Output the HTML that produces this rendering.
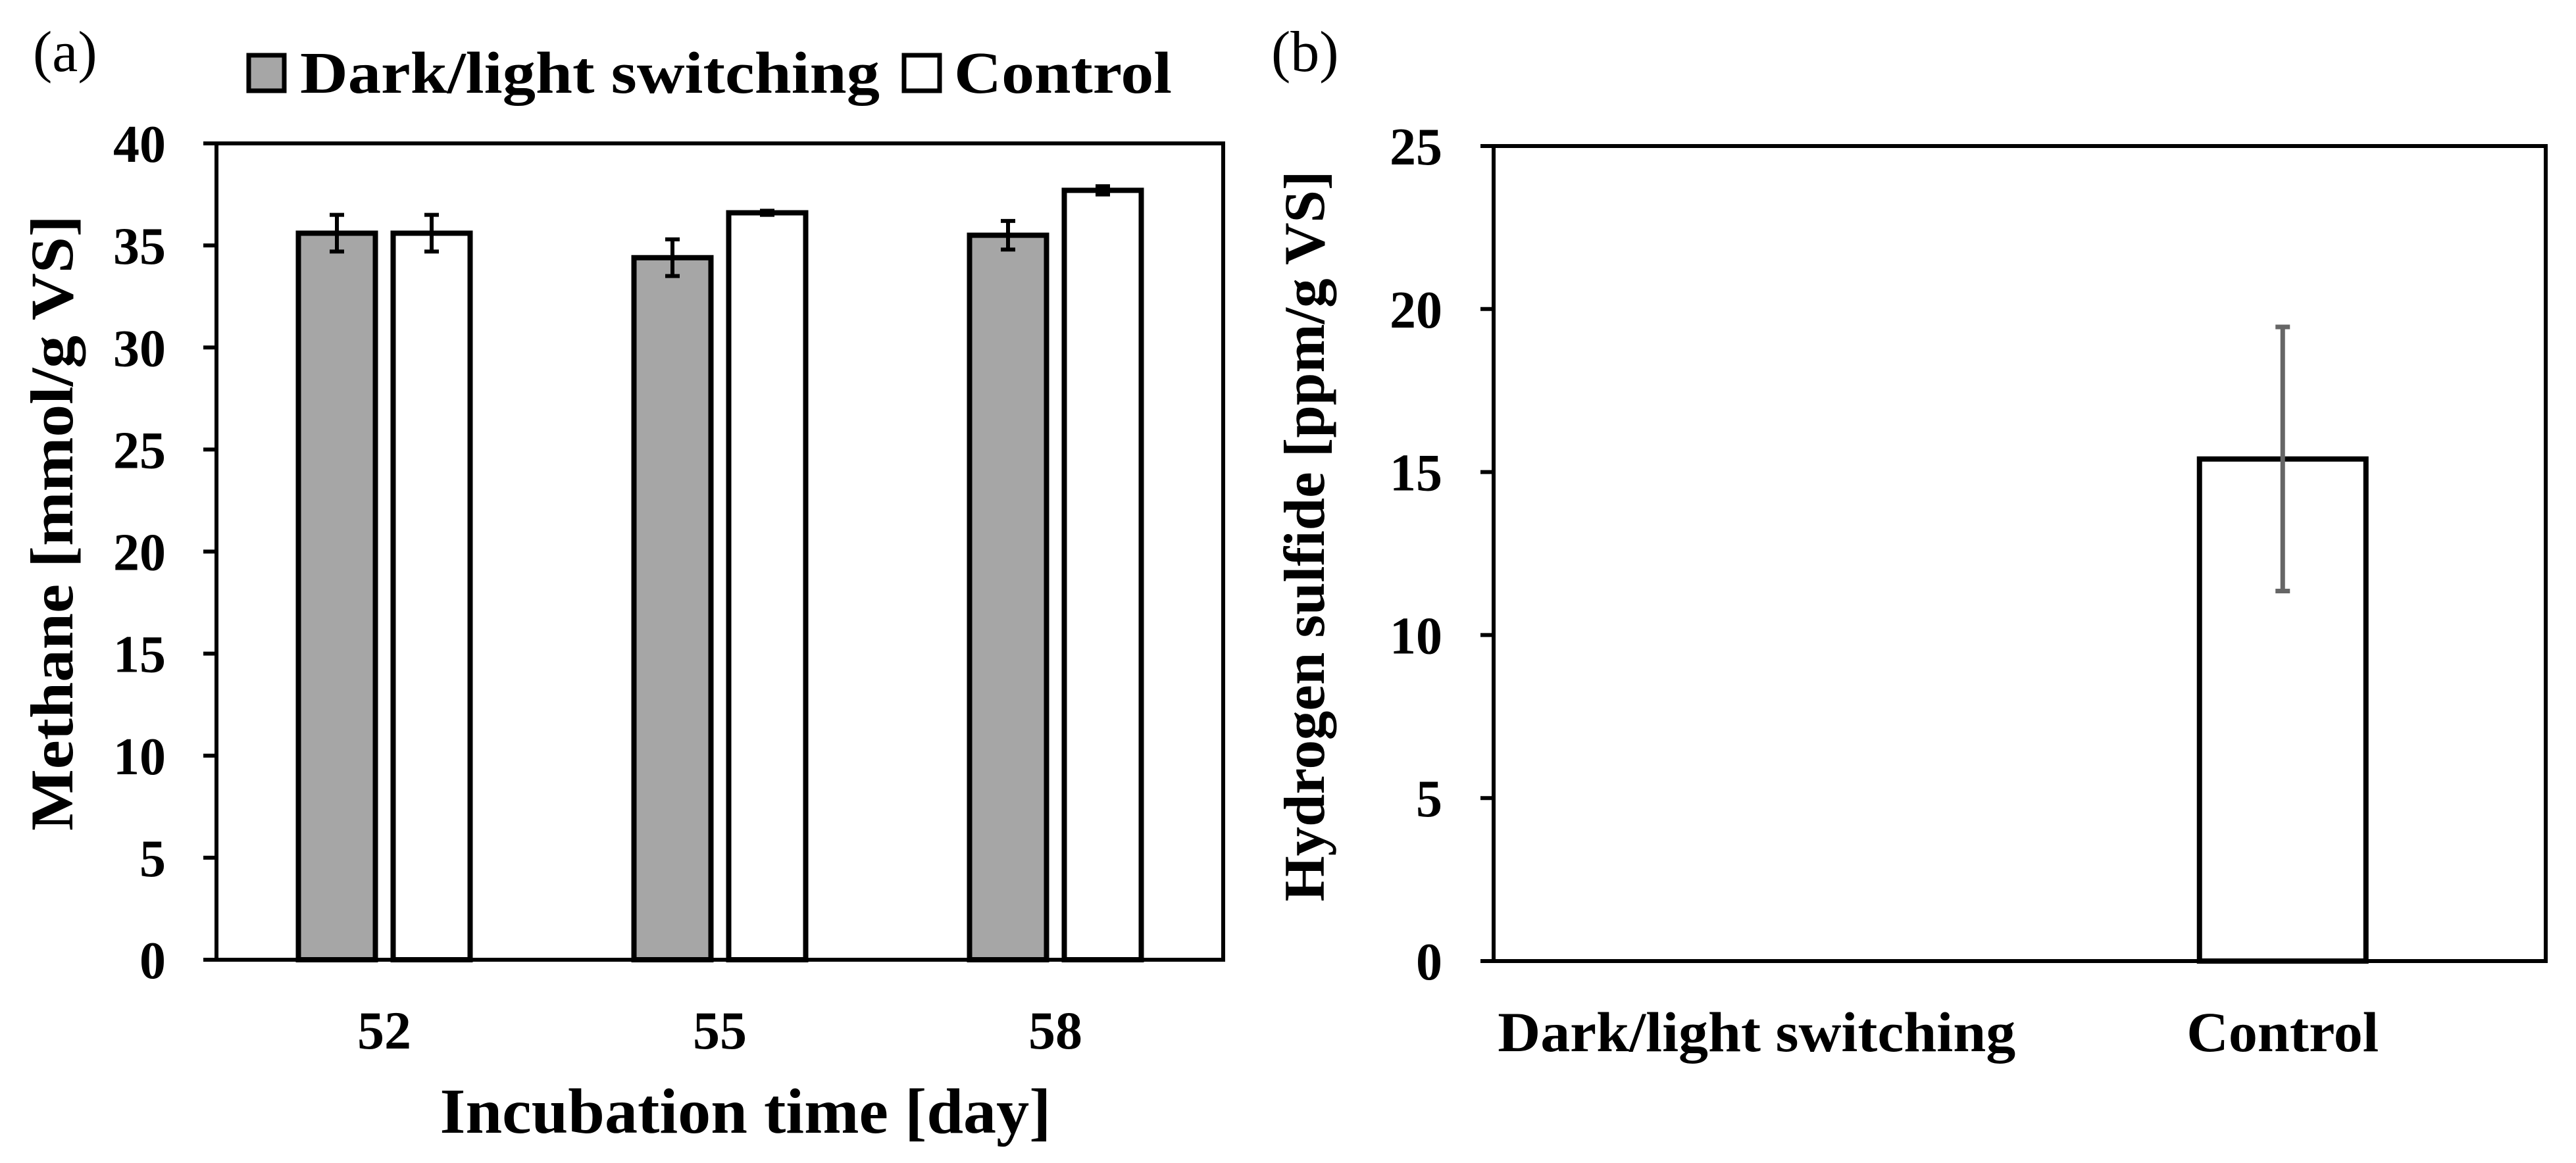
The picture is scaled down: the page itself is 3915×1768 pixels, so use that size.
<!DOCTYPE html>
<html><head><meta charset="utf-8"><style>
html,body{margin:0;padding:0;background:#fff;}
svg{display:block;font-family:"Liberation Serif",serif;}
</style></head><body>
<svg id="s" width="3915" height="1768" viewBox="0 0 3915 1768">
<text x="50" y="108" font-size="88">(a)</text>
<text x="1932" y="108" font-size="88">(b)</text>
<g>
<rect x="378" y="84" width="54" height="54" fill="#a6a6a6" stroke="#000" stroke-width="7"/>
<text x="456" y="141" font-size="90" font-weight="bold" textLength="881" lengthAdjust="spacingAndGlyphs">Dark/light switching</text>
<rect x="1374" y="84" width="54" height="54" fill="#fff" stroke="#000" stroke-width="7"/>
<text x="1450" y="141" font-size="90" font-weight="bold" textLength="331" lengthAdjust="spacingAndGlyphs">Control</text>
</g>
<text transform="translate(110,795) rotate(-90)" text-anchor="middle" font-size="92" font-weight="bold" textLength="936" lengthAdjust="spacingAndGlyphs">Methane [mmol/g VS]</text>
<text x="1133" y="1722" text-anchor="middle" font-size="98" font-weight="bold" textLength="929" lengthAdjust="spacingAndGlyphs">Incubation time [day]</text>
<text transform="translate(2012,815) rotate(-90)" text-anchor="middle" font-size="88" font-weight="bold" textLength="1111" lengthAdjust="spacingAndGlyphs">Hydrogen sulfide [ppm/g VS]</text>
<g id="ga"></g>
<g id="gb"></g>
</svg>
<script>
const daysA = ["52","55","58"];
const darkA = [35.6, 34.4, 35.5];
const darkErrA = [0.9, 0.9, 0.7];
const ctrlA = [35.6, 36.6, 37.7];
const ctrlErrA = [0.9, 0.1, 0.2];
const ticksA = [0,5,10,15,20,25,30,35,40];
const catsB = ["Dark/light switching","Control"];
const valsB = [0, 15.4];
const errB = [0, 4.05];
const ticksB = [0,5,10,15,20,25];

const NS="http://www.w3.org/2000/svg";
function mk(parent,tag,attrs){const e=document.createElementNS(NS,tag);for(const k in attrs)e.setAttribute(k,attrs[k]);parent.appendChild(e);return e;}

// Panel A
const ga=document.getElementById('ga');
const A={l:329,r:1859,t:218,b:1459,max:40};
const ya=v=>A.b-(v/A.max)*(A.b-A.t);
const bandA=(A.r-A.l)/daysA.length;
const bw=117, gap=27;
ticksA.forEach(t=>{
  const y=ya(t);
  const tk=mk(ga,'line',{x1:A.l-20,x2:A.l,y1:y,y2:y,stroke:'#000','stroke-width':6});
  
  
  const tx=mk(ga,'text',{x:252,y:y+28,'text-anchor':'end','font-size':80,'font-weight':'bold'});
  tx.textContent=t;
  
  
});
daysA.forEach((d,i)=>{
  const c=A.l+bandA*(i+0.5);
  [[darkA,darkErrA,'#a6a6a6',c-gap/2-bw,'bar-dark-'+d],[ctrlA,ctrlErrA,'#fff',c+gap/2,'bar-control-'+d]].forEach(([vals,errs,fill,x,name])=>{
    const v=vals[i], y=ya(v);
    const r=mk(ga,'rect',{x:x,y:y,width:bw,height:A.b-y,fill:fill,stroke:'#000','stroke-width':8});
    
    
    const cx=x+bw/2, y1=ya(v+errs[i]), y2=ya(v-errs[i]);
    const eb=mk(ga,'path',{d:`M${cx},${y1}V${y2}M${cx-11},${y1}H${cx+11}M${cx-11},${y2}H${cx+11}`,stroke:'#000','stroke-width':6,fill:'none'});
    
    
  });
  const lt=mk(ga,'text',{x:c,y:1594,'text-anchor':'middle','font-size':82,'font-weight':'bold'});
  lt.textContent=d;
  
  
});
const fa=mk(ga,'rect',{x:A.l,y:A.t,width:A.r-A.l,height:A.b-A.t,fill:'none',stroke:'#000','stroke-width':6});



// Panel B
const gb=document.getElementById('gb');
const B={l:2270,r:3869,t:222,b:1461,max:25};
const yb=v=>B.b-(v/B.max)*(B.b-B.t);
const bandB=(B.r-B.l)/catsB.length;
const bwB=253;
const labW=[787,292];
ticksB.forEach(t=>{
  const y=yb(t);
  const tk=mk(gb,'line',{x1:B.l-20,x2:B.l,y1:y,y2:y,stroke:'#000','stroke-width':6});
  
  
  const tx=mk(gb,'text',{x:2192,y:y+28,'text-anchor':'end','font-size':80,'font-weight':'bold'});
  tx.textContent=t;
  
  
});
catsB.forEach((c,i)=>{
  const cx=B.l+bandB*(i+0.5);
  const v=valsB[i];
  if(v>0){
    const y=yb(v);
    const r=mk(gb,'rect',{x:cx-bwB/2,y:y,width:bwB,height:B.b-y,fill:'#fff',stroke:'#000','stroke-width':8});
    
    
    const y1=yb(v+errB[i]), y2=yb(v-errB[i]);
    const eb=mk(gb,'path',{d:`M${cx},${y1}V${y2}M${cx-11},${y1}H${cx+11}M${cx-11},${y2}H${cx+11}`,stroke:'#666','stroke-width':7,fill:'none'});
    
    
  }
  const lt=mk(gb,'text',{x:cx,y:1598,'text-anchor':'middle','font-size':86,'font-weight':'bold',textLength:labW[i],lengthAdjust:'spacingAndGlyphs'});
  lt.textContent=c;
  
  
});
const fb=mk(gb,'rect',{x:B.l,y:B.t,width:B.r-B.l,height:B.b-B.t,fill:'none',stroke:'#000','stroke-width':6});


</script>
</body></html>
